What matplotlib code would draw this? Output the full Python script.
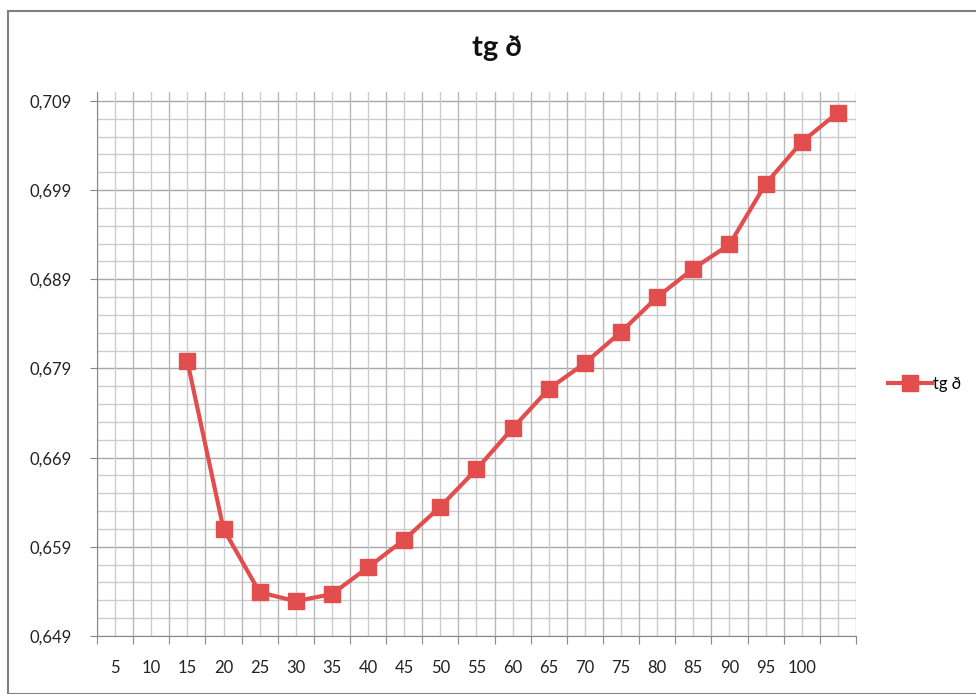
import matplotlib
matplotlib.use("Agg")
import matplotlib.pyplot as plt
from matplotlib.patches import Rectangle
import numpy as np

plt.rcParams['font.family'] = ['Lato', 'DejaVu Sans']

categories = ['5', '10', '15', '20', '25', '30', '35', '40', '45', '50', '55',
              '60', '65', '70', '75', '80', '85', '90', '95', '100', '']
series_name = 'tg ð'
# values start at category "15" (index 2)
start_index = 2
values = [0.6798, 0.6610, 0.6539, 0.6529, 0.6537, 0.6567, 0.6598, 0.6635,
          0.6677, 0.6723, 0.6767, 0.6796, 0.6831, 0.6870, 0.6902, 0.6929,
          0.6997, 0.7044, 0.7077]
y_ticks = [0.649, 0.659, 0.669, 0.679, 0.689, 0.699, 0.709]
y_minor = list(np.round(np.arange(0.649, 0.7095, 0.002), 3))

color = '#E24D4D'

fig = plt.figure(figsize=(9.76, 6.94), dpi=100)
W, H = 976, 694
# outer border
fig.patches.append(Rectangle((7.5 / W, 0), 1, 1 - 10.5 / H, transform=fig.transFigure,
                             fill=False, edgecolor='#808080', linewidth=1.5))

ax = fig.add_axes([97 / W, 1 - 636 / H, (856 - 97) / W, (636 - 92) / H])
n = len(categories)
ax.set_xlim(-0.5, n - 0.5)
ax.set_ylim(0.649, 0.710)

# grid lines
for yv in y_minor:
    major = any(abs(yv - t) < 1e-9 for t in y_ticks)
    ax.axhline(yv, color='#a8a8a8' if major else '#cccccc', lw=1.0, zorder=0)
for i in range(n + 1):
    ax.axvline(i - 0.5, color='#b8b8b8', lw=1.0, zorder=0)
for i in range(n):
    ax.axvline(i, color='#cccccc', lw=1.0, zorder=0)

xs = np.arange(start_index, start_index + len(values))
ax.plot(xs, values, color=color, lw=3, marker='s', markersize=11,
        markerfacecolor=color, markeredgecolor=color, label=series_name, zorder=3)

for s in ['top', 'right']:
    ax.spines[s].set_visible(False)
ax.spines['left'].set_color('#888888')
ax.spines['bottom'].set_color('#888888')

ax.set_yticks(y_ticks)
ax.set_yticklabels([('%.3f' % t).replace('.', ',') for t in y_ticks])
ax.set_xticks(np.arange(n + 1) - 0.5)
ax.set_xticklabels([])
ax.set_xticks(np.arange(n), minor=True)
ax.set_xticklabels(categories, minor=True)
ax.tick_params(axis='x', which='major', length=6, color='#888888')
ax.tick_params(axis='x', which='minor', length=0, pad=17, labelsize=12, labelcolor='#222222')
ax.tick_params(axis='y', length=5, color='#888888', pad=13, labelsize=12, labelcolor='#222222')

fig.text(497 / W, 1 - 48 / H, 'tg ð', ha='center', va='center',
         fontsize=21, fontweight='bold', color='#111111')

leg = fig.legend(loc='center left', bbox_to_anchor=(880 / W, 1 - 384 / H), frameon=False,
                 fontsize=12, handlelength=2.6, handletextpad=0.1, borderpad=0)

fig.savefig('out.png', dpi=100)
